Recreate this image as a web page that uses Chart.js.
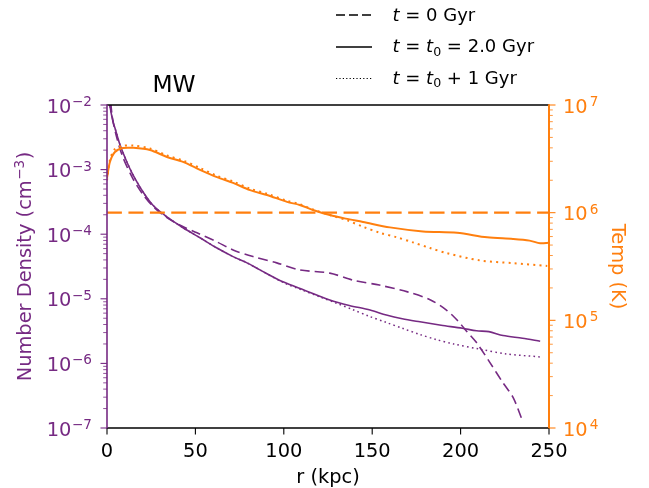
<!DOCTYPE html>
<html><head><meta charset="utf-8">
<script src="https://cdn.jsdelivr.net/npm/chart.js@4.4.1/dist/chart.umd.min.js"></script>
<style>html,body{margin:0;padding:0;background:#fff;}#wrap{width:649px;height:488px;}</style>
</head><body><div id="wrap"><canvas id="c" width="649" height="488"></canvas></div>
<script>
// ---------- data ----------
const xTickValues = [0, 50, 100, 150, 200, 250];
const densExponents = [-7, -6, -5, -4, -3, -2];
const tempExponents = [4, 5, 6, 7];

// Number density, t = 0 Gyr (dashed)
const rDensInit = [1.5, 3, 5.7, 9, 14.7, 20.4, 26, 33.9, 42, 50.9, 62.2, 71.3, 82.6, 96, 109, 126, 139, 154, 170, 183, 192, 198, 203.6, 209, 216.6, 224, 229.6, 235];
const densInit  = [1.8e-2, 6.5e-3, 3.0e-3, 1.55e-3, 7.2e-4, 4.1e-4, 2.7e-4, 1.8e-4, 1.35e-4, 1.05e-4, 7.6e-5, 5.7e-5, 4.5e-5, 3.6e-5, 2.8e-5, 2.5e-5, 1.95e-5, 1.63e-5, 1.28e-5, 9.6e-6, 6.7e-6, 4.7e-6, 3.1e-6, 2.1e-6, 1.03e-6, 5.0e-7, 3.0e-7, 1.3e-7];

// Number density, t = t0 = 2.0 Gyr (solid)
const rDensT0 = [0.8, 1.7, 3.4, 4.5, 7.4, 11.3, 14.7, 20.4, 26, 33.9, 43, 52.6, 62.2, 71.3, 79.2, 86.5, 99.5, 112, 126, 137, 148.8, 158, 167, 177, 189, 201, 209, 216, 224, 235, 245];
const densT0  = [1.6e-2, 9.5e-3, 5.5e-3, 4.4e-3, 2.4e-3, 1.3e-3, 8.3e-4, 4.5e-4, 2.8e-4, 1.85e-4, 1.26e-4, 8.8e-5, 6.1e-5, 4.5e-5, 3.6e-5, 2.8e-5, 1.83e-5, 1.35e-5, 9.6e-6, 7.9e-6, 6.7e-6, 5.6e-6, 4.9e-6, 4.4e-6, 3.9e-6, 3.5e-6, 3.2e-6, 3.1e-6, 2.7e-6, 2.45e-6, 2.2e-6];

// Number density, t = t0 + 1 Gyr (dotted)
const rDensLater = [0.8, 1.7, 3.4, 4.5, 7.4, 11.3, 14.7, 20.4, 26, 33.9, 43, 52.6, 62.2, 71.3, 79.2, 86.5, 99.5, 110, 120.5, 130, 139, 148, 158, 167, 177, 186, 196, 211, 226, 245];
const densLater  = [1.6e-2, 9.5e-3, 5.5e-3, 4.4e-3, 2.4e-3, 1.3e-3, 8.3e-4, 4.5e-4, 2.8e-4, 1.85e-4, 1.26e-4, 8.8e-5, 6.1e-5, 4.5e-5, 3.6e-5, 2.8e-5, 1.8e-5, 1.38e-5, 1.07e-5, 8.5e-6, 6.8e-6, 5.4e-6, 4.3e-6, 3.5e-6, 2.8e-6, 2.35e-6, 2.0e-6, 1.66e-6, 1.4e-6, 1.26e-6];

// Temperature, t = 0 Gyr (dashed, constant)
const rTempInit = [0, 250];
const tempInit  = [1e6, 1e6];

// Temperature, t = t0 (solid)
const rTempT0 = [0, 1.7, 4.5, 9, 14.7, 24.3, 33.9, 43, 52.6, 62.2, 71.3, 80.9, 90.5, 101.8, 109, 116.5, 126, 135, 144.8, 160, 178.7, 198, 215, 229.6, 239, 245, 250];
const tempT0  = [2.1e6, 2.97e6, 3.66e6, 3.98e6, 4.0e6, 3.82e6, 3.29e6, 2.96e6, 2.5e6, 2.14e6, 1.89e6, 1.62e6, 1.46e6, 1.26e6, 1.18e6, 1.06e6, 9.5e5, 8.8e5, 8.2e5, 7.3e5, 6.7e5, 6.5e5, 5.9e5, 5.7e5, 5.5e5, 5.2e5, 5.25e5];

// Temperature, t = t0 + 1 Gyr (dotted)
const rTempLater = [0, 1.7, 4.5, 9, 14.7, 24.3, 33.9, 43, 52.6, 62.2, 71.3, 80.9, 90.5, 101.8, 109, 116.5, 126, 135.7, 144.8, 154.4, 164, 173, 182.7, 192.3, 211, 229.6, 249];
const tempLater  = [2.0e6, 3.1e6, 3.9e6, 4.18e6, 4.2e6, 3.95e6, 3.4e6, 3.05e6, 2.6e6, 2.2e6, 1.95e6, 1.67e6, 1.5e6, 1.29e6, 1.2e6, 1.07e6, 9.5e5, 8.5e5, 7.4e5, 6.5e5, 5.9e5, 5.3e5, 4.7e5, 4.2e5, 3.6e5, 3.4e5, 3.2e5];

const legendLabels = [
  [['t','i'],[' = ','n'],['0 Gyr','n']],
  [['t','i'],[' = ','n'],['t','i'],['0','s'],[' = ','n'],['2.0 Gyr','n']],
  [['t','i'],[' = ','n'],['t','i'],['0','s'],[' + ','n'],['1 Gyr','n']]
];
const titleText = 'MW';
const xTitle = 'r (kpc)';

// ---------- styling ----------
const PURPLE = '#762a83', ORANGE = '#ff7f0e';
const FONT = '"DejaVu Sans", sans-serif';
const FS = 19.4, SUP = 13.6;

function pts(rs, vs) { return rs.map((r, i) => ({ x: r, y: vs[i] })); }

function drawPow(ctx, exp, x, yBase, align, color) {
  const base = '10', sup = exp < 0 ? '\u2212' + (-exp) : String(exp);
  ctx.font = FS + 'px ' + FONT; const w1 = ctx.measureText(base).width;
  ctx.font = SUP + 'px ' + FONT; const w2 = ctx.measureText(sup).width;
  const gap = exp < 0 ? 0.5 : 2;
  const total = w1 + gap + w2;
  const x0 = align === 'right' ? x - total : x;
  ctx.fillStyle = color; ctx.textAlign = 'left'; ctx.textBaseline = 'alphabetic';
  ctx.font = FS + 'px ' + FONT; ctx.fillText(base, x0, yBase);
  ctx.font = SUP + 'px ' + FONT; ctx.fillText(sup, x0 + w1 + gap, yBase - 6.5);
}

function drawRich(ctx, segs, x, y, size) {
  ctx.textAlign = 'left'; ctx.textBaseline = 'alphabetic';
  for (const [t, st] of segs) {
    let f, dy = 0;
    if (st === 'i') f = 'italic ' + size + 'px ' + FONT;
    else if (st === 's') { f = (size * 0.7) + 'px ' + FONT; dy = size * 0.2; }
    else f = size + 'px ' + FONT;
    ctx.font = f; ctx.fillText(t, x, y + dy); x += ctx.measureText(t).width;
  }
}

const decor = {
  id: 'decor',
  afterDraw(chart) {
    const ctx = chart.ctx, a = chart.chartArea;
    const xs = chart.scales.x, yd = chart.scales.yDens, yt = chart.scales.yTemp;
    ctx.save();
    // spines
    ctx.lineCap = 'butt';
    ctx.strokeStyle = '#000'; ctx.lineWidth = 1.6;
    ctx.beginPath(); ctx.moveTo(a.left, a.top); ctx.lineTo(a.right, a.top); ctx.stroke();
    ctx.beginPath(); ctx.moveTo(a.left, a.bottom); ctx.lineTo(a.right, a.bottom); ctx.stroke();
    ctx.strokeStyle = PURPLE; ctx.lineWidth = 1.6;
    ctx.beginPath(); ctx.moveTo(a.left, a.top - 0.8); ctx.lineTo(a.left, a.bottom + 0.8); ctx.stroke();
    ctx.strokeStyle = ORANGE; ctx.lineWidth = 2;
    ctx.beginPath(); ctx.moveTo(a.right, a.top - 0.8); ctx.lineTo(a.right, a.bottom + 0.8); ctx.stroke();

    // x ticks
    ctx.strokeStyle = '#000'; ctx.lineWidth = 1.1;
    ctx.fillStyle = '#000'; ctx.font = FS + 'px ' + FONT; ctx.textAlign = 'center'; ctx.textBaseline = 'alphabetic';
    xTickValues.forEach(v => {
      const px = xs.getPixelForValue(v);
      ctx.beginPath(); ctx.moveTo(px, a.bottom); ctx.lineTo(px, a.bottom + 6.5); ctx.stroke();
      ctx.fillText(String(v), px, 457);
    });

    // left log axis ticks
    ctx.strokeStyle = PURPLE;
    densExponents.forEach((k, idx) => {
      const py = yd.getPixelForValue(Math.pow(10, k));
      ctx.lineWidth = 1.1;
      ctx.beginPath(); ctx.moveTo(a.left, py); ctx.lineTo(a.left - 6.5, py); ctx.stroke();
      drawPow(ctx, k, 92, py + 7.5, 'right', PURPLE);
      if (idx < densExponents.length - 1) {
        ctx.lineWidth = 0.8;
        for (let m = 2; m <= 9; m++) {
          const my = yd.getPixelForValue(m * Math.pow(10, k));
          ctx.beginPath(); ctx.moveTo(a.left, my); ctx.lineTo(a.left - 3.8, my); ctx.stroke();
        }
      }
    });
    // right log axis ticks
    ctx.strokeStyle = ORANGE;
    tempExponents.forEach((k, idx) => {
      const py = yt.getPixelForValue(Math.pow(10, k));
      ctx.lineWidth = 1.1;
      ctx.beginPath(); ctx.moveTo(a.right, py); ctx.lineTo(a.right + 6.5, py); ctx.stroke();
      drawPow(ctx, k, 563, py + 7.5, 'left', ORANGE);
      if (idx < tempExponents.length - 1) {
        ctx.lineWidth = 0.8;
        for (let m = 2; m <= 9; m++) {
          const my = yt.getPixelForValue(m * Math.pow(10, k));
          ctx.beginPath(); ctx.moveTo(a.right, my); ctx.lineTo(a.right + 3.8, my); ctx.stroke();
        }
      }
    });

    // axis titles
    ctx.fillStyle = '#000'; ctx.font = FS + 'px ' + FONT; ctx.textAlign = 'center';
    ctx.fillText(xTitle, 328, 482.5);

    // left title with superscript
    ctx.save();
    ctx.translate(31, (a.top + a.bottom) / 2);
    ctx.rotate(-Math.PI / 2);
    ctx.fillStyle = PURPLE; ctx.textAlign = 'left';
    const p1 = 'Number Density (cm', p2 = '\u22123', p3 = ')';
    ctx.font = FS + 'px ' + FONT; const w1 = ctx.measureText(p1).width, w3 = ctx.measureText(p3).width;
    ctx.font = SUP + 'px ' + FONT; const w2 = ctx.measureText(p2).width;
    let sx = -(w1 + w2 + w3 + 1) / 2;
    ctx.font = FS + 'px ' + FONT; ctx.fillText(p1, sx, 0); sx += w1 + 0.5;
    ctx.font = SUP + 'px ' + FONT; ctx.fillText(p2, sx, -7); sx += w2 + 0.5;
    ctx.font = FS + 'px ' + FONT; ctx.fillText(p3, sx, 0);
    ctx.restore();

    // right title
    ctx.save();
    ctx.translate(612, (a.top + a.bottom) / 2);
    ctx.rotate(Math.PI / 2);
    ctx.fillStyle = ORANGE; ctx.textAlign = 'center'; ctx.font = FS + 'px ' + FONT;
    ctx.fillText('Temp (K)', 0, 0);
    ctx.restore();

    // chart title
    ctx.fillStyle = '#000'; ctx.textAlign = 'center'; ctx.font = '23.3px ' + FONT;
    ctx.fillText(titleText, 174, 92);

    // legend
    const rowsY = [15, 47, 78.5], baseY = [20.5, 52, 83.5];
    const styles = [[9, 4], [], [1.2, 2.2]];
    const widths = [1.3, 1.3, 1.1];
    for (let i = 0; i < 3; i++) {
      ctx.strokeStyle = '#000'; ctx.lineWidth = widths[i]; ctx.setLineDash(styles[i]);
      ctx.beginPath(); ctx.moveTo(336, rowsY[i]); ctx.lineTo(372, rowsY[i]); ctx.stroke();
      ctx.setLineDash([]);
      ctx.fillStyle = '#000';
      drawRich(ctx, legendLabels[i], 392.5, baseY[i], 18);
    }
    ctx.restore();
  }
};

const common = { pointRadius: 0, pointHoverRadius: 0, fill: false, tension: 0.3 };

new Chart(document.getElementById('c'), {
  type: 'line',
  data: {
    datasets: [
      Object.assign({ data: pts(rTempInit, tempInit), yAxisID: 'yTemp', borderColor: ORANGE, borderWidth: 2.2, borderDash: [15, 6.5] }, common),
      Object.assign({ data: pts(rTempT0, tempT0), yAxisID: 'yTemp', borderColor: ORANGE, borderWidth: 2 }, common),
      Object.assign({ data: pts(rTempLater, tempLater), yAxisID: 'yTemp', borderColor: ORANGE, borderWidth: 2, borderDash: [2, 4.2] }, common),
      Object.assign({ data: pts(rDensInit, densInit), yAxisID: 'yDens', borderColor: PURPLE, borderWidth: 1.6, borderDash: [9.5, 5] }, common),
      Object.assign({ data: pts(rDensT0, densT0), yAxisID: 'yDens', borderColor: PURPLE, borderWidth: 1.6 }, common),
      Object.assign({ data: pts(rDensLater, densLater), yAxisID: 'yDens', borderColor: PURPLE, borderWidth: 1.5, borderDash: [1.6, 3.2] }, common)
    ]
  },
  options: {
    responsive: false,
    animation: false,
    devicePixelRatio: 1,
    layout: { padding: { top: 105, left: 0, right: 0, bottom: 0 } },
    plugins: { legend: { display: false }, title: { display: false }, tooltip: { enabled: false } },
    scales: {
      x: {
        type: 'linear', min: 0, max: 250, position: 'bottom',
        grid: { display: false }, border: { display: false },
        ticks: { display: false },
        afterFit(s) { s.height = 60; }
      },
      yDens: {
        type: 'logarithmic', min: 1e-7, max: 1e-2, position: 'left',
        grid: { display: false }, border: { display: false },
        ticks: { display: false },
        afterFit(s) { s.width = 107; }
      },
      yTemp: {
        type: 'logarithmic', min: 1e4, max: 1e7, position: 'right',
        grid: { display: false }, border: { display: false },
        ticks: { display: false },
        afterFit(s) { s.width = 100; }
      }
    }
  },
  plugins: [decor]
});
</script>
</body></html>
